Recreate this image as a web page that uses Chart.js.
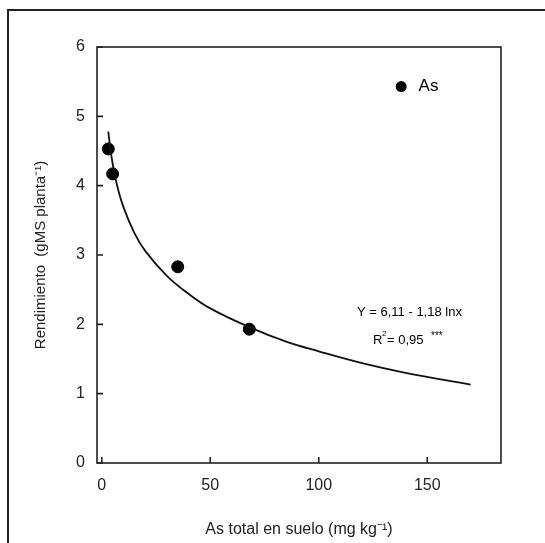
<!DOCTYPE html>
<html><head><meta charset="utf-8">
<script src="https://cdn.jsdelivr.net/npm/chart.js@4/dist/chart.umd.min.js"></script>
<style>body{margin:0;background:#fff}</style>
</head><body><canvas id="c" width="545" height="543"></canvas>
<script>
const asTotal = [3, 5, 35, 68];
const rendimiento = [4.53, 4.17, 2.83, 1.93];
const fitX = [3, 4, 5, 7, 10, 15, 20, 30, 40, 50, 68, 85, 100, 120, 140, 170];
const fitY = [4.78, 4.52, 4.32, 4.01, 3.69, 3.32, 3.06, 2.70, 2.44, 2.23, 1.96, 1.75, 1.61, 1.44, 1.30, 1.13];
const xTicks = [0, 50, 100, 150];
const yTicks = [0, 1, 2, 3, 4, 5, 6];
const FONT = "'Liberation Sans', Arial, sans-serif";

const extras = {
    id: 'extras',
    afterDraw(chart) {
        const {ctx, chartArea: a, scales: {x, y}} = chart;
        ctx.save();
        ctx.strokeStyle = '#222';
        ctx.lineWidth = 2;
        ctx.strokeRect(8, 10, 545, 545);
        ctx.lineWidth = 1.6;
        ctx.strokeRect(a.left, a.top, a.right - a.left, a.bottom - a.top);
        ctx.beginPath();
        yTicks.forEach(v => { const p = y.getPixelForValue(v); ctx.moveTo(a.left, p); ctx.lineTo(a.left + 6, p); });
        xTicks.forEach(v => { const p = x.getPixelForValue(v); ctx.moveTo(p, a.bottom); ctx.lineTo(p, a.bottom - 6); });
        ctx.stroke();
        // legend
        ctx.fillStyle = '#000';
        ctx.beginPath();
        ctx.arc(x.getPixelForValue(138), y.getPixelForValue(5.43), 5.5, 0, Math.PI * 2);
        ctx.fill();
        ctx.font = '17px ' + FONT;
        ctx.textBaseline = 'middle';
        ctx.fillText('As', x.getPixelForValue(146), y.getPixelForValue(5.43));
        // equation
        ctx.font = '13px ' + FONT;
        ctx.fillText('Y = 6,11 - 1,18 lnx', 357, 312);
        ctx.fillText('R', 373, 340);
        ctx.font = '8px ' + FONT;
        ctx.fillText('2', 382, 334);
        ctx.font = '13px ' + FONT;
        ctx.fillText('= 0,95', 387, 340);
        ctx.font = '10px ' + FONT;
        ctx.fillText('***', 431, 336);
        ctx.restore();
    }
};

new Chart(document.getElementById('c'), {
    type: 'scatter',
    data: {
        datasets: [
            {
                type: 'line',
                data: fitX.map((v, i) => ({x: v, y: fitY[i]})),
                borderColor: '#111',
                borderWidth: 1.8,
                pointRadius: 0,
                tension: 0.4,
                fill: false
            },
            {
                data: asTotal.map((v, i) => ({x: v, y: rendimiento[i]})),
                backgroundColor: '#000',
                borderColor: '#000',
                pointRadius: 6
            }
        ]
    },
    options: {
        responsive: false,
        animation: false,
        layout: {padding: {left: 28, top: 47, right: 44, bottom: 0}},
        plugins: {legend: {display: false}, tooltip: {enabled: false}},
        scales: {
            x: {
                type: 'linear',
                min: -2.2, max: 184,
                afterBuildTicks: s => { s.ticks = xTicks.map(v => ({value: v})); },
                afterFit: s => { s.height = 80; },
                grid: {display: false, drawTicks: false},
                border: {display: false},
                ticks: {color: '#222', padding: 13, font: {family: FONT, size: 16}},
                title: {display: true, text: 'As total en suelo (mg kg⁻¹)', color: '#222', padding: {top: 4}, font: {family: FONT, size: 16}}
            },
            y: {
                min: 0, max: 6,
                afterBuildTicks: s => { s.ticks = yTicks.map(v => ({value: v})); },
                afterFit: s => { s.width = 69; },
                grid: {display: false, drawTicks: false},
                border: {display: false},
                ticks: {color: '#222', padding: 12, font: {family: FONT, size: 16}},
                title: {display: true, text: 'Rendimiento  (gMS planta⁻¹)', color: '#222', padding: {bottom: 4}, font: {family: FONT, size: 15}}
            }
        }
    },
    plugins: [extras]
});
</script>
</body></html>
